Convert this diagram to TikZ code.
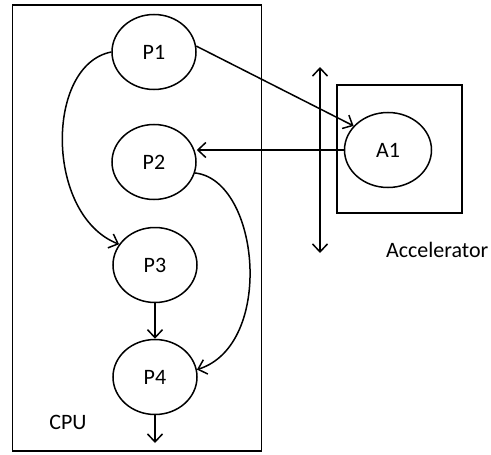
\documentclass[tikz,border=0pt]{standalone}
\usepackage{fontspec}
\setmainfont{Carlito}
\usetikzlibrary{arrows.meta,calc,shapes.geometric}
\begin{document}
\begin{tikzpicture}[x=1pt,y=-1pt,
  line width=1.5pt,
  proc/.style={draw,ellipse,minimum width=84pt,minimum height=75pt,inner sep=0pt,font=\fontsize{22}{26}\selectfont},
  lbl/.style={font=\fontsize{22}{26}\selectfont},
  tip/.style={},
  arr/.style={-{Straight Barb[length=8pt,width=15pt,line width=1.5pt]}},
  darr/.style={{Straight Barb[length=8pt,width=15pt,line width=1.5pt]}-{Straight Barb[length=8pt,width=15pt,line width=1.5pt]}},
  box/.style={draw,line width=1.7pt}]
\useasboundingbox (0,0) rectangle (491,455);
\node[box,minimum width=249pt,minimum height=446pt,inner sep=0pt] (cpu) at (137,228) {};
\node[box,minimum width=125pt,minimum height=128pt,inner sep=0pt] (acc) at (399.5,149) {};
\node[proc] (P1) at (154,52) {P1};
\node[proc] (P2) at (154,162) {P2};
\node[proc] (P3) at (155,265) {P3};
\node[proc] (P4) at (155,377) {P4};
\node[proc,minimum width=87pt,minimum height=75pt] (A1) at (388,150) {A1};
\node[lbl] (cpulbl) at (68,422) {CPU};
\node[lbl,anchor=west] (acclbl) at (382,250) {Accelerator};
\coordinate (busT) at (320,67);
\coordinate (busB) at (320,253);
\coordinate (out) at (155,443);
\draw[darr] (busT) -- (busB);
\draw[arr] (P1.8) -- (A1.145);
\draw[arr] (A1.west) -- (A1.west -| P2.east);
\draw[arr] (P1.west) .. controls (45,65) and (45,215) .. (P3.150);
\draw[arr] (P2.-15) .. controls (260,180) and (275,345) .. (P4.10);
\draw[arr] (P3.south) -- (P4.north);
\draw[arr] (P4.south) -- (out);
\end{tikzpicture}
\end{document}
